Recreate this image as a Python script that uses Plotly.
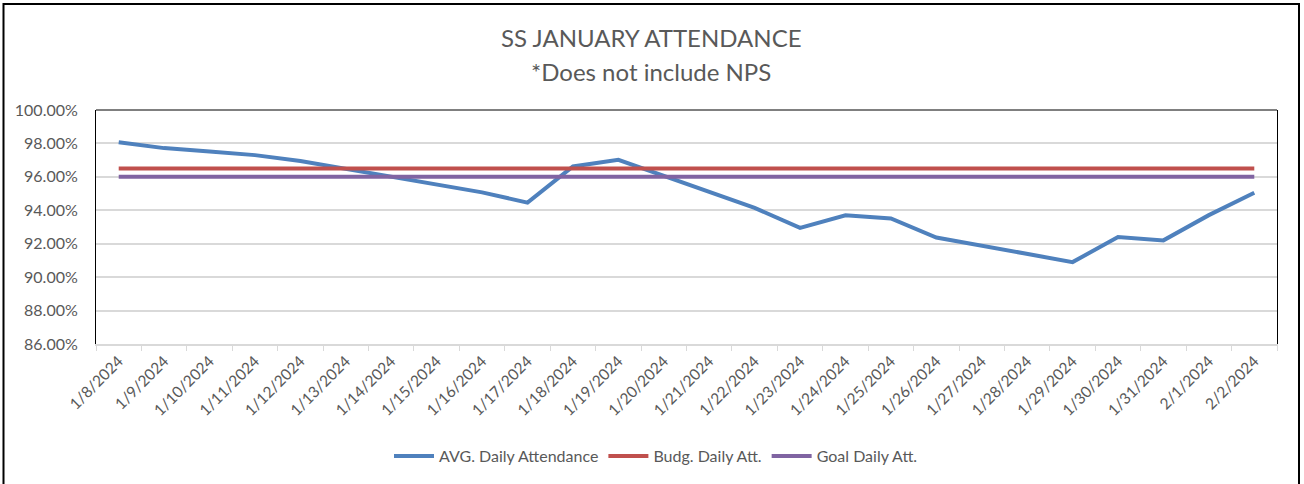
import plotly.graph_objects as go

dates = ["1/8/2024", "1/9/2024", "1/10/2024", "1/11/2024", "1/12/2024", "1/13/2024",
         "1/14/2024", "1/15/2024", "1/16/2024", "1/17/2024", "1/18/2024", "1/19/2024",
         "1/20/2024", "1/21/2024", "1/22/2024", "1/23/2024", "1/24/2024", "1/25/2024",
         "1/26/2024", "1/27/2024", "1/28/2024", "1/29/2024", "1/30/2024", "1/31/2024",
         "2/1/2024", "2/2/2024"]

avg_daily = [0.9807, 0.9772, 0.9752, 0.9730, 0.9695, None,
             None, None, 0.9507, 0.9446, 0.9662, 0.9702,
             None, None, 0.9414, 0.9295, 0.9370, 0.9351,
             0.9237, None, None, 0.9090, 0.9240, 0.9220,
             0.9371, 0.9505]

budg_daily = [0.965] * len(dates)
goal_daily = [0.96] * len(dates)

FONT = "Lato"
GREY = "#595959"

W, H = 1304, 484
L, R, T, B = 96, 27, 110, 139
PW, PH = W - L - R, H - T - B


def px(x):
    return (x - L) / PW


def py(y):
    return (H - B - y) / PH


fig = go.Figure()
fig.add_trace(go.Scatter(x=dates, y=avg_daily, mode="lines", name="AVG. Daily Attendance",
                         line=dict(color="#4f81bd", width=4), connectgaps=True))
fig.add_trace(go.Scatter(x=dates, y=budg_daily, mode="lines", name="Budg. Daily Att.",
                         line=dict(color="#c0504d", width=4)))
fig.add_trace(go.Scatter(x=dates, y=goal_daily, mode="lines", name="Goal Daily Att.",
                         line=dict(color="#8064a2", width=4)))

fig.update_layout(
    width=W, height=H,
    margin=dict(l=L, r=R, t=T, b=B, pad=0),
    paper_bgcolor="white", plot_bgcolor="white",
    font=dict(family=FONT, color=GREY, size=15),
    showlegend=True,
    legend=dict(orientation="h", x=px(656), xanchor="center", y=py(456), yanchor="middle",
                font=dict(family=FONT, size=16, color=GREY), itemwidth=40,
                traceorder="normal", bgcolor="rgba(0,0,0,0)"),
    xaxis=dict(type="category", categoryorder="array", categoryarray=dates,
               tickangle=-45, tickfont=dict(family=FONT, size=15.5, color=GREY),
               showgrid=False, showline=True, linecolor="#d9d9d9", linewidth=2,
               ticks="outside", ticklen=5, tickcolor="#d9d9d9", tickwidth=1,
               tickson="boundaries", zeroline=False, range=[-0.5, len(dates) - 0.5]),
    yaxis=dict(range=[0.86, 1.0], dtick=0.02, tick0=0.86, tickformat=".2%",
               tickfont=dict(family=FONT, size=16, color=GREY),
               showgrid=True, gridcolor="#d9d9d9", gridwidth=1.5,
               showline=True, linecolor="black", linewidth=1, mirror=True,
               ticks="", ticklabelstandoff=14, zeroline=False),
    annotations=[
        dict(text="SS JANUARY ATTENDANCE", xref="paper", yref="paper",
             x=px(651), y=py(37), xanchor="center", yanchor="middle", showarrow=False,
             font=dict(family=FONT, size=24, color=GREY)),
        dict(text="*Does not include NPS", xref="paper", yref="paper",
             x=px(651), y=py(71), xanchor="center", yanchor="middle", showarrow=False,
             font=dict(family=FONT, size=24, color=GREY)),
    ],
    shapes=[
        dict(type="line", xref="paper", yref="paper", x0=0, x1=1, y0=1, y1=1,
             line=dict(color="black", width=1)),
        dict(type="rect", xref="paper", yref="paper", x0=px(3.5), x1=px(1299),
             y0=py(492), y1=py(3.5), line=dict(color="black", width=2),
             fillcolor="rgba(0,0,0,0)"),
    ],
)

fig.write_html("out.html", config={"displayModeBar": False},
               post_script="document.body.style.margin='0';document.body.style.padding='0';")
